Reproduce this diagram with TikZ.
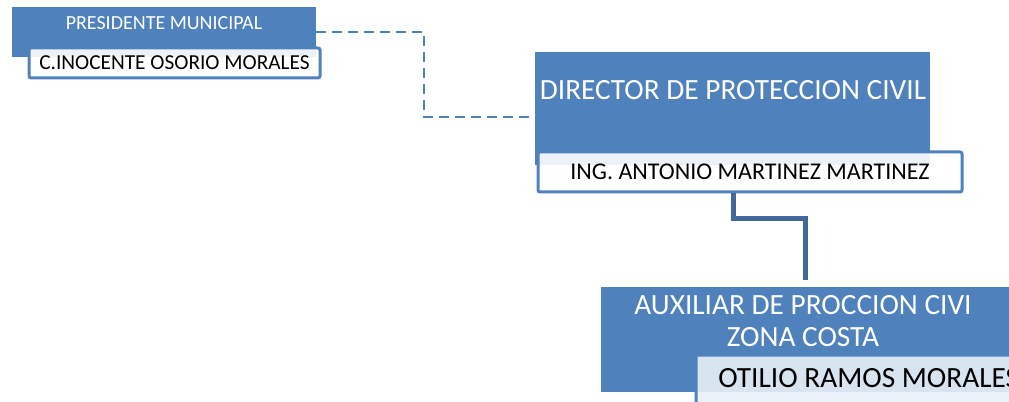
\documentclass[tikz,border=0pt]{standalone}
\usepackage{fontspec}
\setmainfont{Carlito}
\usepackage{tikz}
\definecolor{orgblue}{HTML}{4F81BD}
\definecolor{linkblue}{HTML}{41689B}
\definecolor{paleblue}{HTML}{E9EFF7}
\tikzset{
  headbox/.style={fill=orgblue, draw=none, inner sep=0pt},
  namebox/.style={draw=orgblue, line width=2.25pt, rounded corners=1.5pt, fill=white, fill opacity=0.9, inner sep=0pt},
  headtxt/.style={text=white, inner sep=0pt, align=center},
  nametxt/.style={text=black, inner sep=0pt},
  solidlink/.style={draw=linkblue, line width=3.75pt},
  dashlink/.style={draw=orgblue, line width=1.5pt, dash pattern=on 7.5pt off 4.5pt}
}
\begin{document}
\begin{tikzpicture}[x=0.75pt,y=-0.75pt]
\useasboundingbox (0,0) rectangle (1009,402);
\clip (0,0) rectangle (1009,402);
\node[headbox, minimum width=228pt, minimum height=37.5pt] (pres) at (164,32) {};
\node[namebox, minimum width=218.25pt, minimum height=22.5pt] (presname) at (174.5,63) {};
\node[headtxt, font=\fontsize{15}{18}\selectfont] (prestitle) at (164,23) {PRESIDENTE MUNICIPAL};
\node[nametxt, font=\fontsize{16}{19}\selectfont] (presperson) at (presname) {C.INOCENTE OSORIO MORALES};
\node[headbox, minimum width=296.25pt, minimum height=84.75pt] (dir) at (732.5,108.5) {};
\node[namebox, minimum width=318pt, minimum height=30pt] (dirname) at (750,172) {};
\node[headtxt, font=\fontsize{22}{26}\selectfont] (dirtitle) at (733,90) {DIRECTOR DE PROTECCION CIVIL};
\node[nametxt, font=\fontsize{18}{21}\selectfont] (dirperson) at (dirname) {ING. ANTONIO MARTINEZ MARTINEZ};
\node[headbox, minimum width=306pt, minimum height=78.75pt] (aux) at (805,339.5) {};
\node[namebox, fill=paleblue, minimum width=258pt, minimum height=48.75pt] (auxname) at (868,387.5) {};
\node[headtxt, font=\fontsize{22}{24}\selectfont] (auxtitle) at (803,321) {AUXILIAR DE PROCCION CIVI\\ZONA COSTA};
\node[nametxt, anchor=west, font=\fontsize{22}{26}\selectfont] (auxperson) at (718,378) {OTILIO RAMOS MORALES};
\coordinate (dbend) at (424,117);
\coordinate (sbend) at (733,219);
\draw[dashlink] (pres.east) -| (dbend) -- (dbend -| dir.west);
\draw[solidlink] (sbend |- dirname.south) -- (sbend) -| ([yshift=5.25pt]aux.north);
\end{tikzpicture}
\end{document}
